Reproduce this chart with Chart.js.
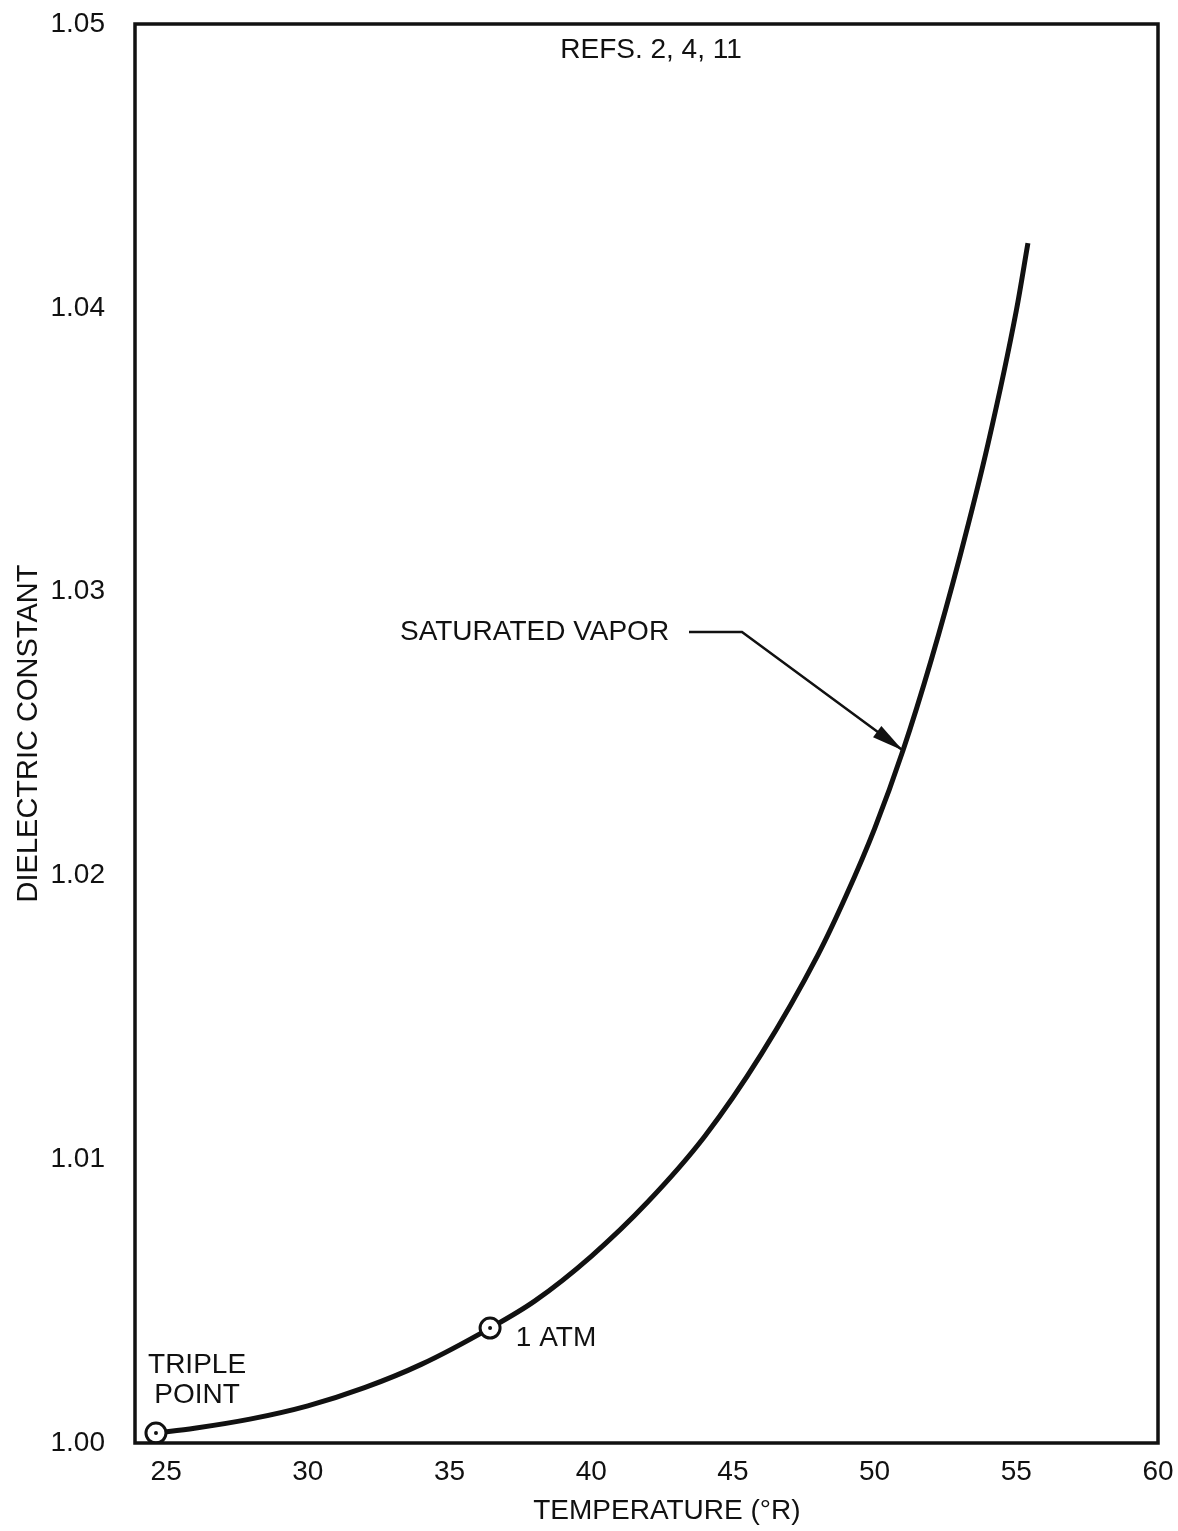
<!DOCTYPE html>
<html>
<head>
<meta charset="utf-8">
<script src="https://cdn.jsdelivr.net/npm/chart.js@4.4.0/dist/chart.umd.min.js"></script>
<style>
  body { margin: 0; background: #fff; }
  canvas { display: block; }
</style>
</head>
<body>
<canvas id="chart" width="1178" height="1531"></canvas>
<script>
// Saturated vapor curve
const temps = [24.64, 26, 28, 30, 32, 34, 36.43, 38, 40, 42, 44, 46, 48, 49, 50, 51, 52, 53, 54, 55, 55.41];
const dielectric = [1.00035, 1.00052, 1.00085, 1.00131, 1.00195, 1.00277, 1.00405, 1.0050, 1.00658, 1.0085, 1.0108, 1.0137, 1.0172, 1.0193, 1.02165, 1.0244, 1.0276, 1.0312, 1.0352, 1.0399, 1.04228];

// Marked states (triple point, 1 atm)
const markTemps = [24.64, 36.43];
const markValues = [1.00035, 1.00405];

// Tick labels
const xTicks = [25, 30, 35, 40, 45, 50, 55, 60];
const yTicks = [1.00, 1.01, 1.02, 1.03, 1.04, 1.05];

const FONT = '"Liberation Sans", Arial, sans-serif';
const INK = '#111';

// Frame, labels, x title and the leader arrow
const notes = {
  id: 'notes',
  afterDraw(chart){
    const { ctx, chartArea: a, scales: { x, y } } = chart;
    const px = v => x.getPixelForValue(v);
    const py = v => y.getPixelForValue(v);
    ctx.save();

    ctx.strokeStyle = INK;
    ctx.lineWidth = 3.5;
    ctx.strokeRect(a.left, a.top, a.right - a.left, a.bottom - a.top);

    ctx.fillStyle = INK;
    ctx.font = '28px ' + FONT;
    ctx.textBaseline = 'middle';

    ctx.textAlign = 'center';
    ctx.fillText('REFS. 2, 4, 11', px(42.11), py(1.04908));
    ctx.fillText('TRIPLE', px(26.09), py(1.00275));
    ctx.fillText('POINT', px(26.09), py(1.00169));
    ctx.fillText('TEMPERATURE (°R)', px(42.67), a.bottom + 68);

    ctx.textAlign = 'left';
    ctx.fillText('1 ATM', px(37.34), py(1.0037));
    ctx.fillText('SATURATED VAPOR', px(33.25), py(1.02858));

    // leader line to the curve
    const x0 = px(43.45), y0 = py(1.02858);
    const x1 = px(45.32);
    const tx = px(51.0), ty = py(1.0244);
    ctx.lineWidth = 2.5;
    ctx.beginPath();
    ctx.moveTo(x0, y0);
    ctx.lineTo(x1, y0);
    ctx.lineTo(tx, ty);
    ctx.stroke();
    const ang = Math.atan2(ty - y0, tx - x1);
    const len = 32, half = 7;
    ctx.beginPath();
    ctx.moveTo(tx, ty);
    ctx.lineTo(tx - len * Math.cos(ang) + half * Math.sin(ang), ty - len * Math.sin(ang) - half * Math.cos(ang));
    ctx.lineTo(tx - len * Math.cos(ang) - half * Math.sin(ang), ty - len * Math.sin(ang) + half * Math.cos(ang));
    ctx.closePath();
    ctx.fill();

    ctx.restore();
  }
};

new Chart(document.getElementById('chart'), {
  type: 'scatter',
  data: {
    datasets: [
      {
        label: 'dots',
        data: markTemps.map((t, i) => ({ x: t, y: markValues[i] })),
        pointRadius: 2,
        pointBackgroundColor: INK,
        pointBorderWidth: 0,
        showLine: false,
        order: 0
      },
      {
        label: 'marks',
        data: markTemps.map((t, i) => ({ x: t, y: markValues[i] })),
        pointRadius: 10,
        pointBackgroundColor: '#fff',
        pointBorderColor: INK,
        pointBorderWidth: 3,
        showLine: false,
        order: 1
      },
      {
        label: 'Saturated vapor',
        data: temps.map((t, i) => ({ x: t, y: dielectric[i] })),
        showLine: true,
        borderColor: INK,
        borderWidth: 5,
        pointRadius: 0,
        cubicInterpolationMode: 'monotone',
        order: 2
      }
    ]
  },
  options: {
    responsive: false,
    animation: false,
    layout: { padding: { top: 24, right: 20, bottom: 0, left: 0 } },
    plugins: { legend: { display: false }, tooltip: { enabled: false } },
    scales: {
      x: {
        type: 'linear',
        min: 23.9,
        max: 60,
        grid: { display: false, drawTicks: false },
        border: { display: false },
        afterBuildTicks: s => { s.ticks = xTicks.map(v => ({ value: v })); },
        afterFit: s => { s.height = 88; s.paddingLeft = 0; s.paddingRight = 0; },
        ticks: { color: INK, font: { family: FONT, size: 28 }, padding: 12, maxRotation: 0 }
      },
      y: {
        type: 'linear',
        min: 1.0,
        max: 1.05,
        grid: { display: false, drawTicks: false },
        border: { display: false },
        afterBuildTicks: s => { s.ticks = yTicks.map(v => ({ value: v })); },
        afterFit: s => { s.width = 135; s.paddingTop = 0; s.paddingBottom = 0; },
        ticks: { color: INK, font: { family: FONT, size: 28 }, padding: 30, callback: v => v.toFixed(2) },
        title: { display: true, text: 'DIELECTRIC CONSTANT', color: INK, font: { family: FONT, size: 29 }, padding: { top: 12, bottom: 0 } }
      }
    }
  },
  plugins: [notes]
});
</script>
</body>
</html>
